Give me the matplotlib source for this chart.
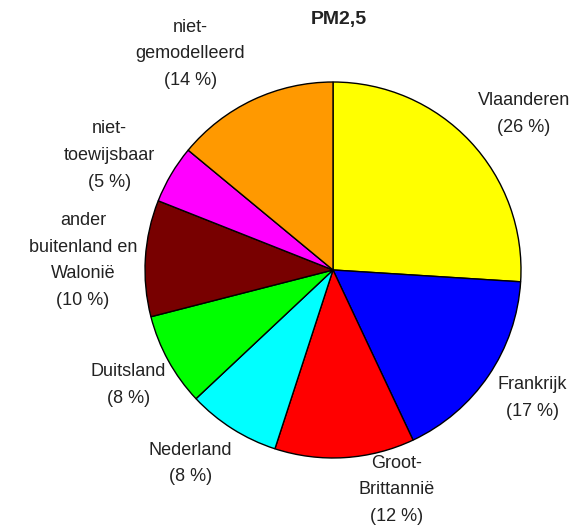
import matplotlib.pyplot as plt

# PM2,5 origin shares
labels = ["Vlaanderen\n(26 %)", "Frankrijk\n(17 %)", "Groot-\nBrittannië\n(12 %)",
          "Nederland\n(8 %)", "Duitsland\n(8 %)", "ander\nbuitenland en\nWalonië\n(10 %)",
          "niet-\ntoewijsbaar\n(5 %)", "niet-\ngemodelleerd\n(14 %)"]
shares = [26, 17, 12, 8, 8, 10, 5, 14]
colors = ["#FFFF00", "#0000FF", "#FF0000", "#00FFFF", "#00FF00", "#780000", "#FF00FF", "#FF9900"]

# label centres in pie units (radius = 1)
label_pos = [(1.016, 0.83), (1.06, -0.68), (0.34, -1.17), (-0.76, -1.03),
             (-1.09, -0.61), (-1.33, 0.05), (-1.19, 0.61), (-0.76, 1.15)]

plt.rcParams['font.family'] = ['Liberation Sans', 'DejaVu Sans']

fig = plt.figure(figsize=(5.79, 5.28), dpi=100)
ax = fig.add_axes([0.1855, 0.0614, 0.7793, 0.8545])

wedges, texts = ax.pie(shares, labels=labels, colors=colors, startangle=90,
                       counterclock=False,
                       wedgeprops=dict(edgecolor="black", linewidth=1.0),
                       textprops=dict(fontsize=13, color="#222222", linespacing=1.75))
for t, (x, y) in zip(texts, label_pos):
    t.set_position((x, y))
    t.set_ha("center")
    t.set_va("center")

ax.set_xlim(-1.2, 1.2)
ax.set_ylim(-1.2, 1.2)
ax.set_aspect("equal")

fig.text(0.585, 0.964, "PM2,5", ha="center", va="center", fontsize=14,
         fontweight="bold", color="#222222")

fig.savefig("out.png", dpi=100)
